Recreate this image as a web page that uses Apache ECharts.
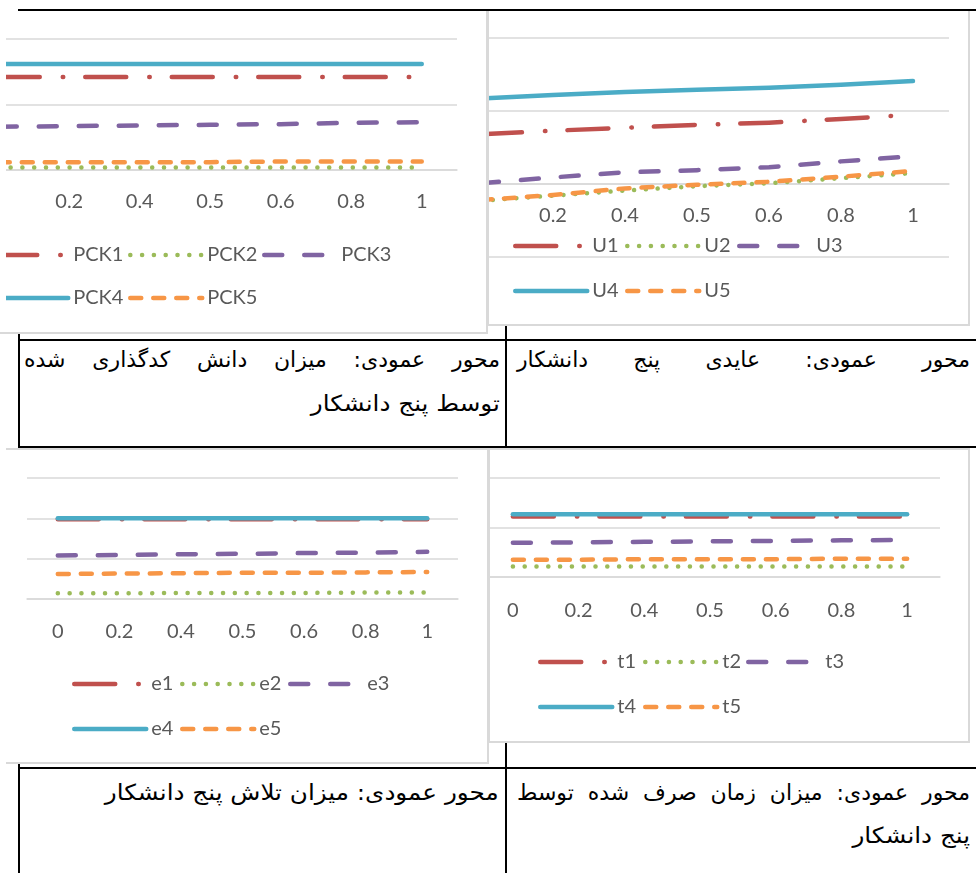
<!DOCTYPE html>
<html lang="fa">
  <head>
    <meta charset="UTF-8" />
    <title>ECharts</title>
    <script src="https://cdn.jsdelivr.net/npm/echarts@6/dist/echarts.min.js"></script>
    <style>
      body { margin: 0; width: 976px; height: 873px; overflow: hidden; background: #fff; position: relative; }
      .vl, .hl { position: absolute; background: #000; }
      .vl { z-index: 0; }
      .hl { z-index: 3; }
      .box { position: absolute; overflow: hidden; background: #fff; z-index: 1; }
      .chart { position: absolute; width: 1176px; height: 873px; }
      .gb { position: absolute; background: #d9d9d9; z-index: 2; }
      .cap { position: absolute; direction: rtl; font-family: "DejaVu Sans"; font-size: 22px; line-height: 26px; color: #000; white-space: nowrap; z-index: 2; }
      .just { text-align: justify; text-align-last: justify; }
      .wide { display: inline-block; transform: scaleX(1.12); transform-origin: right center; }
    </style>
  </head>

  <body>
    <!-- خطوط جدول -->
    <div class="vl" style="left:18px; top:9px; width:2px; height:864px"></div>
    <div class="vl" style="left:505px; top:9px; width:2px; height:864px"></div>
    <div class="hl" style="left:18px; top:9px; width:958px; height:2px"></div>
    <div class="hl" style="left:18px; top:339px; width:958px; height:2px"></div>
    <div class="hl" style="left:18px; top:446px; width:958px; height:2px"></div>
    <div class="hl" style="left:18px; top:767px; width:958px; height:2px"></div>

    <!-- چهار نمودار -->
    <div class="box" style="left:6px; top:10px; width:480px; height:322px"><div id="c1" class="chart"></div></div>
    <div class="box" style="left:489px; top:10px; width:479px; height:314px"><div id="c2" class="chart"></div></div>
    <div class="box" style="left:6px; top:450px; width:481px; height:312px"><div id="c3" class="chart"></div></div>
    <div class="box" style="left:490px; top:450px; width:478px; height:291px"><div id="c4" class="chart"></div></div>

    <!-- قاب خاکستری نمودارها -->
    <div class="gb" style="left:486px; top:10px; width:2px; height:324px"></div>
    <div class="gb" style="left:0px; top:332px; width:488px; height:2px"></div>
    <div class="gb" style="left:487px; top:10px; width:2px; height:316px"></div>
    <div class="gb" style="left:968px; top:10px; width:2px; height:316px"></div>
    <div class="gb" style="left:487px; top:324px; width:483px; height:2px"></div>
    <div class="gb" style="left:6px; top:448px; width:483px; height:2px"></div>
    <div class="gb" style="left:487px; top:448px; width:2px; height:316px"></div>
    <div class="gb" style="left:6px; top:762px; width:483px; height:2px"></div>
    <div class="gb" style="left:488px; top:448px; width:482px; height:2px"></div>
    <div class="gb" style="left:488px; top:448px; width:2px; height:295px"></div>
    <div class="gb" style="left:968px; top:448px; width:2px; height:295px"></div>
    <div class="gb" style="left:488px; top:741px; width:482px; height:2px"></div>

    <!-- عنوان ها -->
    <div class="cap just" style="left:24px; top:347px; width:476px">محور عمودی: میزان دانش کدگذاری شده</div>
    <div class="cap" style="left:24px; top:391px; width:476px"><span class="wide">توسط پنج دانشکار</span></div>
    <div class="cap just" style="left:517px; top:347px; width:453px">محور عمودی: عایدی پنج دانشکار</div>
    <div class="cap" style="left:24px; top:780px; width:475px"><span class="wide">محور عمودی: میزان تلاش پنج دانشکار</span></div>
    <div class="cap just" style="left:517px; top:780px; width:453px">محور عمودی: میزان زمان صرف شده توسط</div>
    <div class="cap" style="left:517px; top:823px; width:453px"><span class="wide">پنج دانشکار</span></div>

    <script type="text/javascript">
      // محور افقی
      var cats = ["0", "0.2", "0.4", "0.5", "0.6", "0.8", "1"];

      // دانش کدگذاری شده
      var pckNames = ["PCK1", "PCK2", "PCK3", "PCK4", "PCK5"];
      var pck1 = [1.42, 1.42, 1.42, 1.42, 1.42, 1.42, 1.42];
      var pck2 = [0.04, 0.04, 0.04, 0.04, 0.04, 0.04, 0.04];
      var pck3 = [0.66, 0.67, 0.68, 0.69, 0.7, 0.72, 0.73];
      var pck4 = [1.62, 1.62, 1.62, 1.62, 1.62, 1.62, 1.62];
      var pck5 = [0.12, 0.12, 0.12, 0.12, 0.13, 0.13, 0.13];

      // عایدی
      var uNames = ["U1", "U2", "U3", "U4", "U5"];
      var u1 = [0.68, 0.73, 0.77, 0.81, 0.84, 0.89, 0.95];
      var u2 = [-0.23, -0.16, -0.09, -0.03, 0.01, 0.08, 0.15];
      var u3 = [0.01, 0.09, 0.16, 0.19, 0.23, 0.31, 0.38];
      var u4 = [1.17, 1.22, 1.26, 1.29, 1.32, 1.36, 1.41];
      var u5 = [-0.22, -0.15, -0.06, -0.01, 0.03, 0.1, 0.18];

      // تلاش
      var eNames = ["e1", "e2", "e3", "e4", "e5"];
      var e1 = [1.98, 1.98, 1.98, 1.98, 1.98, 1.98, 1.98];
      var e2 = [0.14, 0.14, 0.15, 0.15, 0.15, 0.16, 0.16];
      var e3 = [1.08, 1.09, 1.11, 1.12, 1.14, 1.15, 1.17];
      var e4 = [2.0, 2.0, 2.0, 2.0, 2.0, 2.0, 2.0];
      var e5 = [0.62, 0.63, 0.64, 0.65, 0.65, 0.66, 0.67];

      // زمان
      var tNames = ["t1", "t2", "t3", "t4", "t5"];
      var t1 = [1.22, 1.22, 1.22, 1.22, 1.22, 1.22, 1.22];
      var t2 = [0.21, 0.21, 0.21, 0.21, 0.21, 0.21, 0.21];
      var t3 = [0.69, 0.7, 0.71, 0.72, 0.73, 0.74, 0.75];
      var t4 = [1.27, 1.27, 1.27, 1.27, 1.27, 1.27, 1.27];
      var t5 = [0.35, 0.35, 0.36, 0.36, 0.36, 0.37, 0.37];

      var colors = ["#C0504D", "#9BBB59", "#8064A2", "#4BACC6", "#F79646"];
      var dashes = [[41, 23, 0.5, 22], [0.1, 11.7], [18, 22], "solid", [11, 12]];
      var OX = -100; // هر بوم از x=-100 صفحه شروع می شود

      function draw(id, box, lay, names, values) {
        var el = document.getElementById(id);
        el.style.left = OX - box[0] + "px";
        el.style.top = -box[1] + "px";
        var chart = echarts.init(el);

        var legends = names.map(function (n, i) {
          var p = lay.legend[i];
          return {
            data: [n],
            left: p[0] - OX,
            top: p[1] - 10,
            padding: 0,
            itemWidth: 72,
            itemHeight: 20,
            selectedMode: false,
            textStyle: { fontFamily: "Lato", fontSize: 20, lineHeight: 20, color: "#595959" },
            lineStyle: { width: 4.5 },
            itemStyle: { opacity: 0 },
          };
        });

        var option = {
          animation: false,
          legend: legends,
          grid: {
            left: lay.grid[0] - OX,
            top: lay.grid[1],
            width: lay.grid[2],
            height: lay.grid[3],
            outerBoundsMode: "none",
          },
          xAxis: {
            type: "category",
            data: cats,
            boundaryGap: true,
            offset: lay.offset,
            axisTick: { show: false },
            axisLine: { onZero: false, lineStyle: { color: "#D9D9D9", width: 1.5 } },
            axisLabel: { fontFamily: "Lato", fontSize: 20, color: "#595959", margin: lay.margin },
          },
          yAxis: {
            type: "value",
            min: lay.min,
            max: lay.max,
            interval: 1,
            axisLabel: { show: false },
            axisLine: { show: false },
            axisTick: { show: false },
            splitLine: { lineStyle: { color: "#D9D9D9", width: 1.5 } },
          },
          series: names.map(function (n, i) {
            return {
              name: n,
              type: "line",
              data: values[i],
              symbol: "none",
              color: colors[i],
              silent: true,
              lineStyle: { color: colors[i], width: 4.5, type: dashes[i], cap: "round", join: "round" },
            };
          }),
        };
        chart.setOption(option);
      }

      draw("c1", [6, 10], {
        grid: [-36.5, 39, 493.5, 131], min: 0, max: 2, margin: 22, offset: 0,
        legend: [[-6, 255], [128, 255], [262, 255], [-6, 298], [128, 298]],
      }, pckNames, [pck1, pck2, pck3, pck4, pck5]);

      // محور افقی روی مقدار صفر قرار می گیرد (۷۳ پیکسل بالاتر از پایین)
      draw("c2", [489, 10], {
        grid: [445, 38, 504, 219], min: -1, max: 2, margin: 22, offset: -73,
        legend: [[513, 246], [625, 246], [737, 246], [513, 291], [625, 291]],
      }, uNames, [u1, u2, u3, u4, u5]);

      draw("c3", [6, 450], {
        grid: [27, 478, 431, 121], min: 0, max: 3, margin: 23, offset: 0,
        legend: [[72, 684], [180, 684], [288, 684], [72, 729], [180, 729]],
      }, eNames, [e1, e2, e3, e4, e5]);

      draw("c4", [490, 450], {
        grid: [480, 478, 460, 99], min: 0, max: 2, margin: 24, offset: 0,
        legend: [[538, 662], [643, 662], [746, 662], [538, 707], [643, 707]],
      }, tNames, [t1, t2, t3, t4, t5]);
    </script>
  </body>
</html>
